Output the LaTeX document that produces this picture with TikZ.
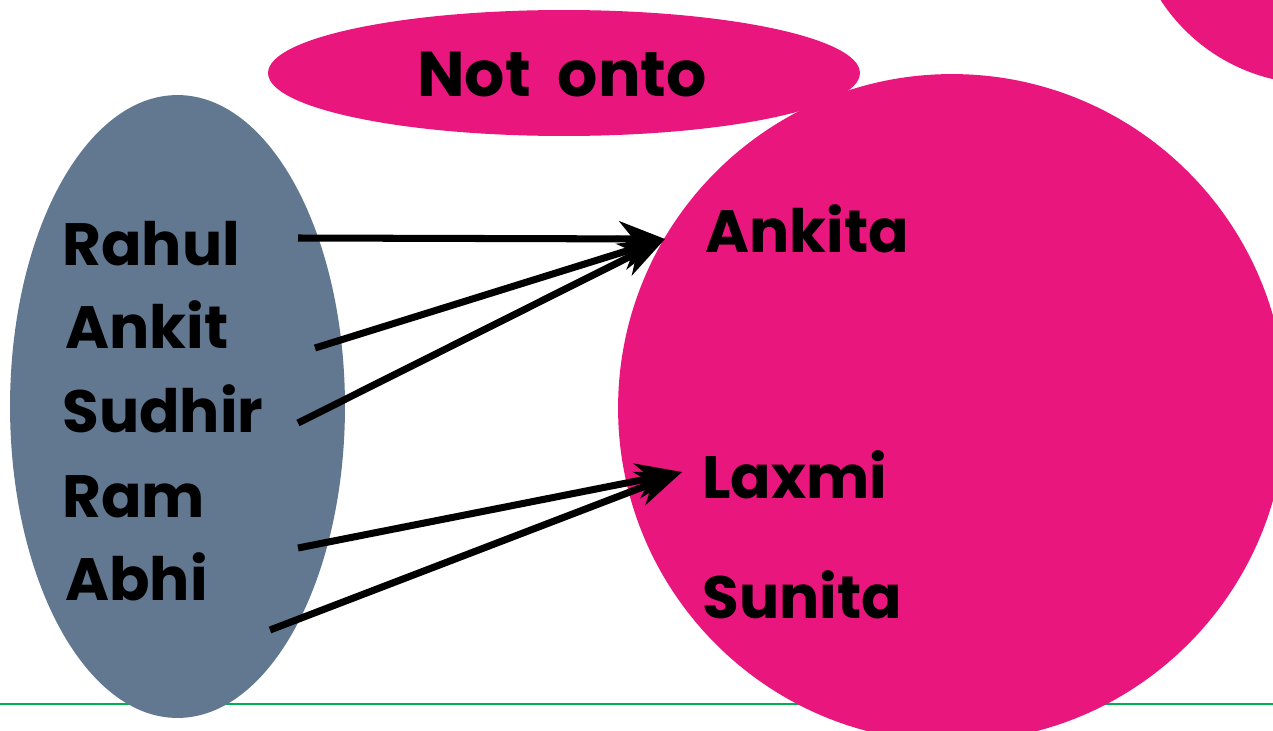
\documentclass[tikz,border=0pt]{standalone}
\usepackage{fontspec}
\setmainfont{Poppins}
\usetikzlibrary{arrows.meta}
\definecolor{setgray}{RGB}{98,120,145}
\definecolor{setpink}{RGB}{233,23,125}
\definecolor{rulegreen}{RGB}{0,176,80}
\begin{document}
\begin{tikzpicture}[x=0.02cm,y=-0.02cm,
  personlabel/.style={anchor=base west,inner sep=0pt,font=\fontsize{34}{38}\selectfont\bfseries},
  maparrow/.style={line width=4pt,-{Stealth[length=26pt,width=20pt,inset=8pt]}}]
\useasboundingbox (0,0) rectangle (1273,730);
\fill[white] (0,0) rectangle (1273,730);
% footer rule
\draw[rulegreen,line width=1.6pt] (0,704) -- (1273,704);
% sets
\begin{scope}
\clip (0,0) rectangle (1273,730);
\fill[setpink] (1315,-100) circle[radius=3.68cm];
\fill[setpink] (952,408) circle[radius=6.68cm];
\end{scope}
\fill[setgray] (177.5,406.5) ellipse[x radius=3.35cm,y radius=6.23cm];
\fill[setpink] (564,73) ellipse[x radius=5.92cm,y radius=1.26cm];
\node[inner sep=0pt,font=\fontsize{36}{40}\selectfont\bfseries] (title) at (562,75) {Not\ \ onto};
% domain
\node[personlabel] (rahul) at (62,265) {Rahul};
\node[personlabel] (ankit) at (65,348) {Ankit};
\node[personlabel] (sudhir) at (62,432) {Sudhir};
\node[personlabel] (ram) at (62,517) {Ram};
\node[personlabel] (abhi) at (65,600) {Abhi};
% codomain
\node[personlabel] (ankita) at (705,252) {Ankita};
\node[personlabel] (laxmi) at (702,498) {Laxmi};
\node[personlabel] (sunita) at (702,618) {Sunita};
% arrow ends
\coordinate (tRahul) at (298,238);
\coordinate (tAnkit) at (315,348);
\coordinate (tSudhir) at (298,423);
\coordinate (tRam) at (298,548);
\coordinate (tAbhi) at (270,630);
\coordinate (hAnkita) at (665,239);
\coordinate (hLaxmi) at (682,472);
\draw[maparrow] (tRahul) -- (hAnkita);
\draw[maparrow] (tAnkit) -- (hAnkita);
\draw[maparrow] (tSudhir) -- (hAnkita);
\draw[maparrow] (tRam) -- (hLaxmi);
\draw[maparrow] (tAbhi) -- (hLaxmi);
\end{tikzpicture}
\end{document}
